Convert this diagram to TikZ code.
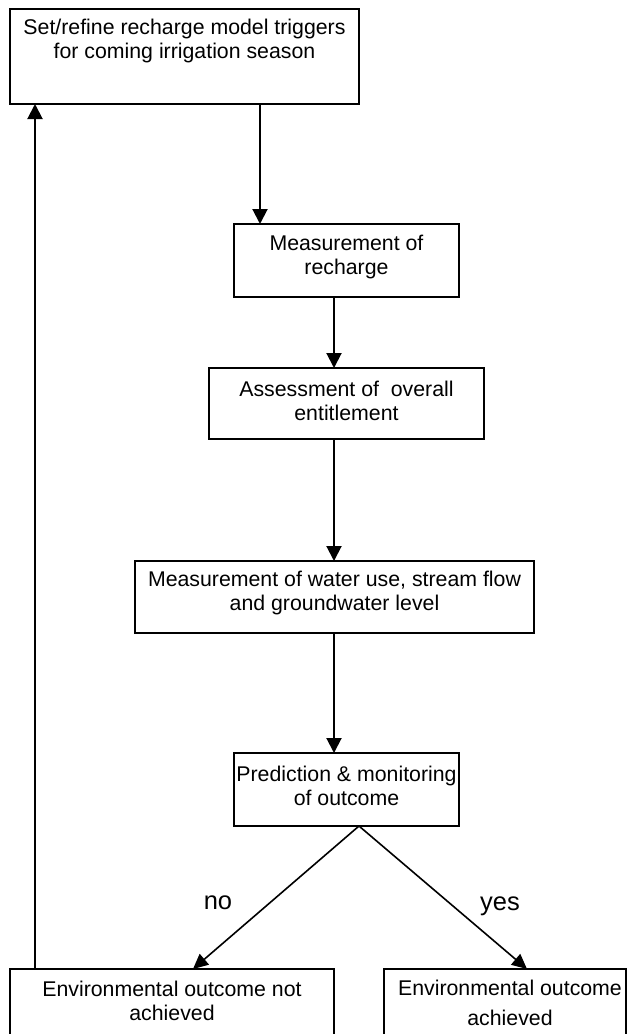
\documentclass[tikz,border=0pt]{standalone}
\usepackage{fontspec}
\setmainfont{Liberation Sans}
\usetikzlibrary{arrows.meta}
\begin{document}
\begin{tikzpicture}[x=1pt,y=-1pt,
  box/.style={draw=black,line width=2pt,inner sep=0pt,outer sep=0pt},
  txt/.style={align=center,inner sep=0pt,font=\fontsize{21.3}{24.5}\selectfont},
  lbl/.style={inner sep=0pt,font=\fontsize{25.5}{28}\selectfont},
  arr/.style={line width=2pt,-{Triangle[length=15pt,width=15pt]}},
  darr/.style={line width=1.6pt,-{Triangle[length=15pt,width=14pt]}}]
\clip (0,0) rectangle (627,1034);
\fill[white] (0,0) rectangle (627,1034);
% boxes
\node[box,minimum width=349pt,minimum height=95pt] (b1) at (184.5,56.5) {};
\node[box,minimum width=225pt,minimum height=73pt] (b2) at (346.5,260.5) {};
\node[box,minimum width=275pt,minimum height=71pt] (b3) at (346.5,403.5) {};
\node[box,minimum width=399pt,minimum height=72pt] (b4) at (334.5,597) {};
\node[box,minimum width=225pt,minimum height=73pt] (b5) at (346.5,789.5) {};
\node[box,minimum width=324pt,minimum height=100pt] (b6) at (172,1019) {};
\node[box,minimum width=242pt,minimum height=100pt] (b7) at (505,1019) {};
% texts
\node[txt] (t1) at (184.5,41) {Set/refine recharge model triggers\\for coming irrigation season};
\node[txt] (t2) at (346.5,257) {Measurement of\\recharge};
\node[txt] (t3) at (346.5,401) {Assessment of~ overall\\entitlement};
\node[txt] (t4) at (334.5,593) {Measurement of water use, stream flow\\and groundwater level};
\node[txt] (t5) at (346.5,786) {Prediction \& monitoring\\of outcome};
\node[txt] (t6) at (172,1001) {Environmental outcome not\\achieved};
\node[txt,font=\fontsize{21.3}{30}\selectfont] (t7) at (510,1003) {Environmental outcome\\achieved};
% labels
\node[lbl] (no) at (218,903) {no};
\node[lbl] (yes) at (500,906) {yes};
% helper x positions
\coordinate (xa) at (260,0);
\coordinate (xb) at (334,0);
\coordinate (xc) at (359,0);
\coordinate (xd) at (193,0);
\coordinate (xe) at (527,0);
\coordinate (xf) at (35,0);
% connectors
\draw[arr] (b1.south -| xa) -- (b2.north -| xa);
\draw[arr] (b2.south -| xb) -- (b3.north -| xb);
\draw[arr] (b3.south -| xb) -- (b4.north -| xb);
\draw[arr] (b4.south -| xb) -- (b5.north -| xb);
\draw[darr] (b5.south -| xc) -- (b6.north -| xd);
\draw[darr] (b5.south -| xc) -- (b7.north -| xe);
\draw[arr] (b6.north -| xf) -- (b1.south -| xf);
\end{tikzpicture}
\end{document}
